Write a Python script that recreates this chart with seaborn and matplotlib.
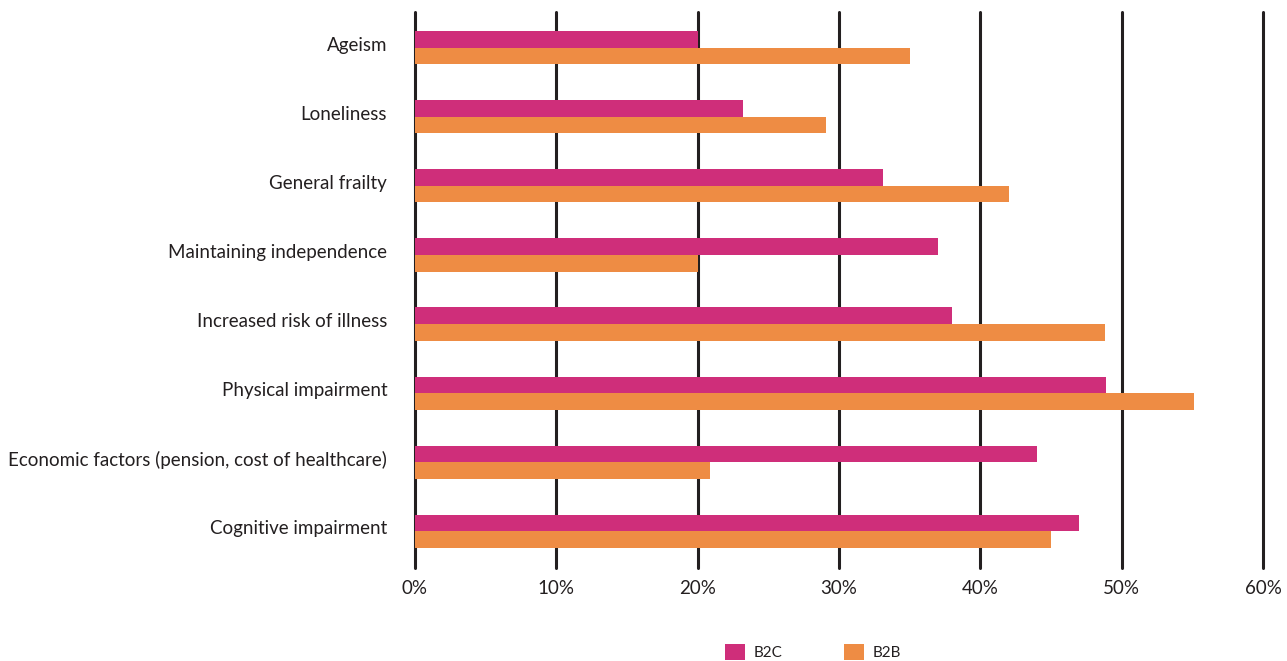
import matplotlib
matplotlib.use("Agg")
import matplotlib.pyplot as plt
import matplotlib.transforms as mtransforms
import seaborn as sns
import pandas as pd
from matplotlib.patches import Patch
from matplotlib.ticker import FuncFormatter

categories = [
    "Ageism",
    "Loneliness",
    "General frailty",
    "Maintaining independence",
    "Increased risk of illness",
    "Physical impairment",
    "Economic factors (pension, cost of healthcare)",
    "Cognitive impairment",
]
b2c = [20.0, 23.2, 33.1, 37.0, 38.0, 48.9, 44.0, 47.0]
b2b = [35.0, 29.1, 42.0, 20.0, 48.8, 55.1, 20.9, 45.0]
series = ["B2C", "B2B"]
colors = ["#CF2E7A", "#EE8C44"]
xticks = [0, 10, 20, 30, 40, 50, 60]

df = pd.DataFrame({
    "category": categories * 2,
    "value": b2c + b2b,
    "series": ["B2C"] * len(categories) + ["B2B"] * len(categories),
})

sns.set_theme(style="white")
plt.rcParams["font.family"] = ["Lato", "DejaVu Sans"]

fig = plt.figure(figsize=(12.87, 6.61), dpi=100)
ax = fig.add_axes([415 / 1287, 1 - 568 / 661, (1263 - 415) / 1287, (568 - 12) / 661])

sns.barplot(data=df, y="category", x="value", hue="series", order=categories,
            hue_order=series, palette=colors, orient="h", width=0.48,
            saturation=1, linewidth=0, ax=ax, legend=False, zorder=3)

ax.set_xlim(0, 60)
ax.set_ylim(len(categories) - 0.47, -0.515)
ax.set_xticks(xticks)
ax.xaxis.set_major_formatter(FuncFormatter(lambda v, p: f"{int(v)}%"))
for x in xticks:
    ax.axvline(x, color="#231F20", lw=2.2, zorder=1, clip_on=False)
for s in ax.spines.values():
    s.set_visible(False)
ax.set_xlabel("")
ax.set_ylabel("")
ax.tick_params(axis="both", length=0, labelsize=13.5, colors="#231F20")
ax.tick_params(axis="y", pad=20)
ax.tick_params(axis="x", pad=9)
ax.grid(False)

offset = mtransforms.ScaledTranslation(0, 4 / 100, fig.dpi_scale_trans)
for lab in ax.get_yticklabels():
    lab.set_transform(lab.get_transform() + offset)

handles = [Patch(facecolor=c, edgecolor="none") for c in colors]
fig.legend(handles, series, loc="center", bbox_to_anchor=(813 / 1287, 1 - 652 / 661),
           ncol=2, frameon=False, fontsize=11, handlelength=1.3, handleheight=1.3,
           handletextpad=0.6, columnspacing=4.0, labelcolor="#231F20")

fig.savefig("out.png", dpi=100)
